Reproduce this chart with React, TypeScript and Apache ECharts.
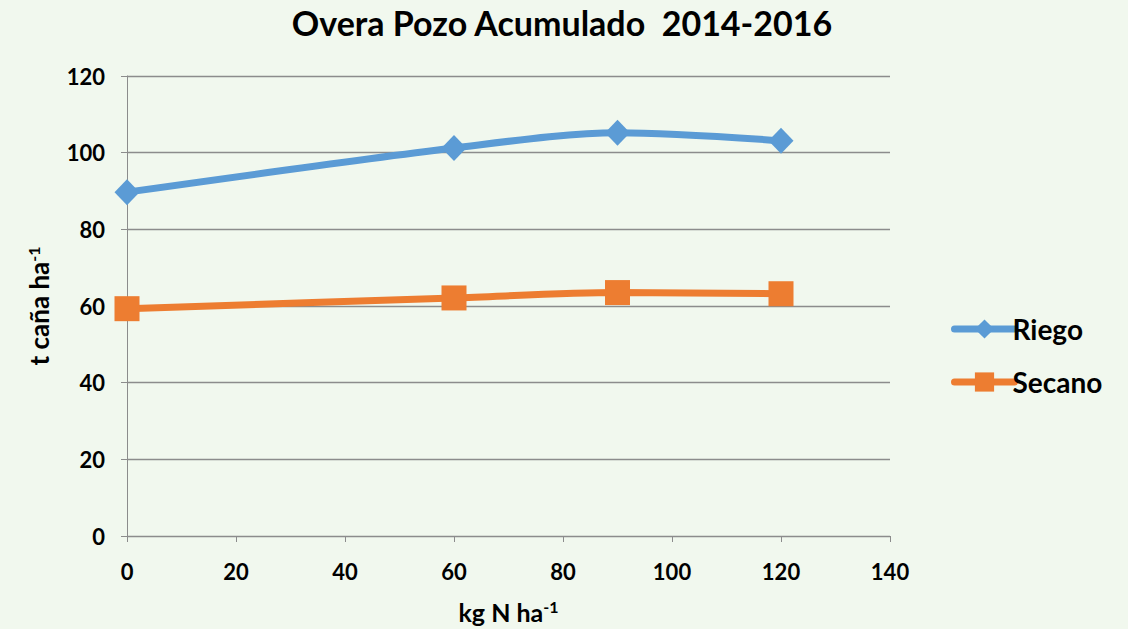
import React, { useEffect, useRef } from "react";
import * as echarts from "echarts";

const xValues = [0, 60, 90, 120];
const riego = [89.7, 101.2, 105.2, 103.1];
const secano = [59.3, 62.1, 63.5, 63.2];
const seriesNames = ["Riego", "Secano"];
const titleText = "Overa Pozo Acumulado  2014-2016";

const FONT = "Lato, 'Open Sans', sans-serif";

export default function App() {
  const ref = useRef<HTMLDivElement>(null);
  useEffect(() => {
    if (!ref.current) return;
    const chart = echarts.init(ref.current, null, { renderer: "svg" });
    chart.setOption({
      animation: false,
      backgroundColor: "#F1F8EE",
      textStyle: { fontFamily: FONT },
      title: {
        text: titleText,
        left: 557,
        textAlign: "center",
        top: 0,
        textStyle: { fontFamily: FONT, fontWeight: "bold", fontSize: 34, color: "#000" },
      },
      grid: { left: 127, right: 238, top: 76, bottom: 93, outerBoundsMode: "none" },
      legend: {
        orient: "vertical",
        left: 946,
        top: 310,
        itemWidth: 60,
        itemHeight: 24,
        itemGap: 25,
        data: seriesNames,
        lineStyle: { width: 7, cap: "round" },
        textStyle: { fontFamily: FONT, fontWeight: "bold", fontSize: 28, color: "#000", padding: [0, 0, 0, -7] },
      },
      xAxis: {
        type: "value",
        min: 0,
        max: 140,
        interval: 20,
        name: "{a|kg N ha}{s|-1}",
        nameLocation: "middle",
        nameGap: 62,
        nameTextStyle: {
          rich: {
            a: { fontFamily: FONT, fontWeight: "bold", fontSize: 25, color: "#000" },
            s: { fontFamily: FONT, fontWeight: "bold", fontSize: 16, color: "#000", verticalAlign: "top", padding: [0, 0, 12, 0] },
          },
        },
        axisLine: { show: true, lineStyle: { color: "#8C8C8C", width: 1 } },
        axisTick: { show: true, length: 6, lineStyle: { color: "#8C8C8C" } },
        splitLine: { show: false },
        axisLabel: { fontFamily: FONT, fontWeight: "bold", fontSize: 22, color: "#000", margin: 24 },
      },
      yAxis: {
        type: "value",
        min: 0,
        max: 120,
        interval: 20,
        name: "{a|t caña ha}{s|-1}",
        nameLocation: "middle",
        nameGap: 74,
        nameRotate: 90,
        nameTextStyle: {
          rich: {
            a: { fontFamily: FONT, fontWeight: "bold", fontSize: 26, color: "#000" },
            s: { fontFamily: FONT, fontWeight: "bold", fontSize: 16, color: "#000", verticalAlign: "top", padding: [0, 0, 12, 0] },
          },
        },
        axisLine: { show: true, lineStyle: { color: "#8C8C8C", width: 1 } },
        axisTick: { show: true, length: 6, lineStyle: { color: "#8C8C8C" } },
        splitLine: { show: true, lineStyle: { color: "#8C8C8C", width: 1.3 } },
        axisLabel: { fontFamily: FONT, fontWeight: "bold", fontSize: 22, color: "#000", margin: 22 },
      },
      series: [
        {
          name: seriesNames[0],
          type: "line",
          data: xValues.map((x, i) => [x, riego[i]]),
          smooth: 0.3,
          symbol: "diamond",
          symbolSize: [25, 26],
          lineStyle: { color: "#5B9BD5", width: 7 },
          itemStyle: { color: "#5B9BD5" },
          z: 3,
        },
        {
          name: seriesNames[1],
          type: "line",
          data: xValues.map((x, i) => [x, secano[i]]),
          smooth: 0.3,
          symbol: "rect",
          symbolSize: [25, 25],
          lineStyle: { color: "#ED7D31", width: 7 },
          itemStyle: { color: "#ED7D31" },
          z: 3,
        },
      ],
    });
    return () => chart.dispose();
  }, []);
  return (
    <div
      ref={ref}
      style={{ position: "fixed", left: 0, top: 0, width: 1128, height: 629 }}
    />
  );
}
